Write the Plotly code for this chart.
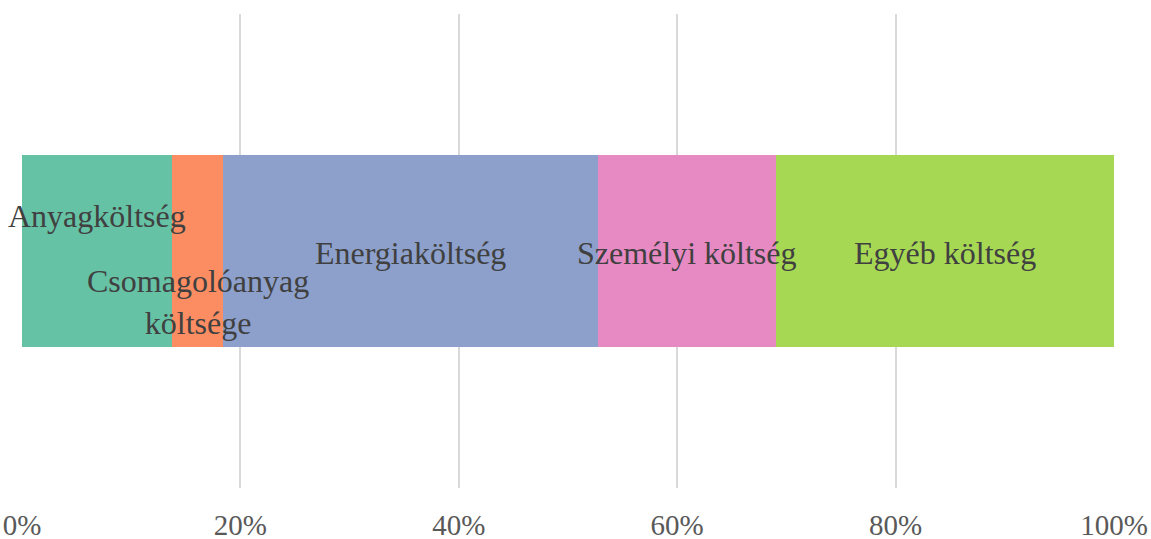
import plotly.graph_objects as go

categories = ["Anyagköltség", "Csomagolóanyag<br>költsége", "Energiaköltség", "Személyi költség", "Egyéb költség"]
values = [13.74, 4.70, 34.33, 16.24, 30.99]
colors = ["#66c2a5", "#fc8d62", "#8da0cb", "#e78ac3", "#a6d854"]
label_shift = [35, -51, -2, -2, -2]
tick_vals = [0, 20, 40, 60, 80, 100]
tick_text = ["0%", "20%", "40%", "60%", "80%", "100%"]

fig = go.Figure()
starts = []
acc = 0
for name, v, c in zip(categories, values, colors):
    starts.append(acc)
    fig.add_trace(go.Bar(x=[v], y=[0], orientation="h", name=name,
                         marker=dict(color=c, line=dict(width=0)), hoverinfo="skip"))
    acc += v

for name, s, v, sh in zip(categories, starts, values, label_shift):
    fig.add_annotation(x=s + v / 2, y=0, xref="x", yref="y", text=name, showarrow=False,
                       yshift=sh, font=dict(family="Liberation Serif", size=32, color="#404040"))

fig.update_layout(
    width=1151, height=539, barmode="stack", bargap=0.597, showlegend=False,
    plot_bgcolor="white", paper_bgcolor="white",
    margin=dict(l=22, r=37, t=14, b=51),
    xaxis=dict(range=[0, 100], tickvals=tick_vals, ticktext=tick_text, showgrid=True,
               gridcolor="#d9d9d9", gridwidth=2, zeroline=False, showline=False,
               tickfont=dict(family="Liberation Serif", size=29, color="#595959"),
               ticklabelstandoff=17, automargin=False, fixedrange=True),
    yaxis=dict(range=[-0.5, 0.5], showticklabels=False, showgrid=False, zeroline=False,
               automargin=False, fixedrange=True),
)
fig.write_html("out.html", config={"displayModeBar": False},
               post_script="document.body.style.margin='0';document.body.style.overflow='hidden';")
